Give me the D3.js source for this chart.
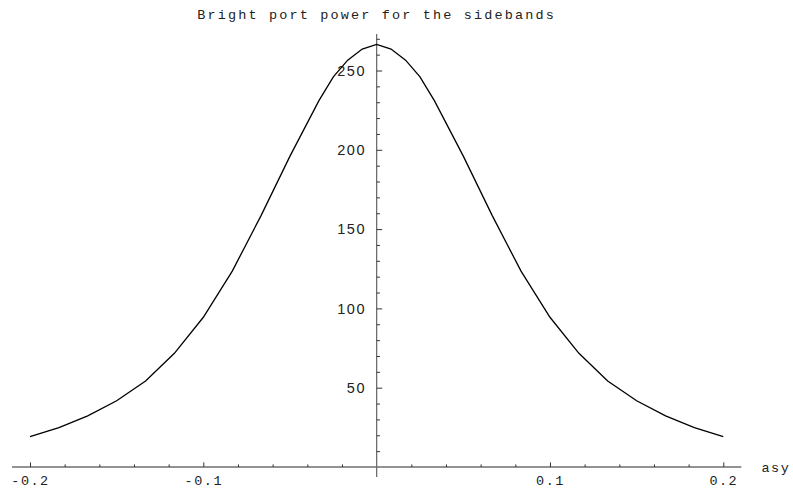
<!DOCTYPE html>
<html>
<head>
<meta charset="utf-8">
<script src="https://cdn.jsdelivr.net/npm/d3@7"></script>
<style>
    body { margin: 0; background: white; }
    svg { display: block; }
</style>
</head>
<body>
<svg id="chart" width="793" height="488"></svg>
<script>
// sample points of the curve (extra points near the peak)
let asyValues = [-0.2, -0.1833, -0.1667, -0.15, -0.1333, -0.1167, -0.1, -0.0833, -0.0667, -0.05, -0.0333, -0.025, -0.0167, -0.0083, 0,
                 0.0083, 0.0167, 0.025, 0.0333, 0.05, 0.0667, 0.0833, 0.1, 0.1167, 0.1333, 0.15, 0.1667, 0.1833, 0.2];
let powerValues = [19.1, 24.8, 32.2, 41.8, 54.2, 71.7, 94.4, 123.5, 158.5, 196, 231, 246, 256.5, 263.5, 266.5,
                   263.5, 256.5, 246, 231, 196, 158.5, 123.5, 94.4, 71.7, 54.2, 41.8, 32.2, 24.8, 19.1];

let xMajorTicks = [-0.2, -0.1, 0.1, 0.2];
let xMinorTicks = [-0.18, -0.16, -0.14, -0.12, -0.08, -0.06, -0.04, -0.02,
                   0.02, 0.04, 0.06, 0.08, 0.12, 0.14, 0.16, 0.18];
let yMajorTicks = [50, 100, 150, 200, 250];
let yMinorTicks = [10, 20, 30, 40, 60, 70, 80, 90, 110, 120, 130, 140, 160, 170, 180, 190, 210, 220, 230, 240, 260, 270];

let titleText = "Bright port power for the sidebands";
let xLabel = "asy";

let svg = d3.select("#chart");

let x = d3.scaleLinear().domain([-0.2, 0.2]).range([30, 723.3]);
let y = d3.scaleLinear().domain([0, 250]).range([467, 70.5]);

let axisColor = "#6e6e6e";

// axis lines (Mathematica style, crossing at the origin)
svg.append("line")
    .attr("x1", x(-0.2104))
    .attr("x2", x(0.2104))
    .attr("y1", y(0))
    .attr("y2", y(0))
    .style("stroke", axisColor)
    .style("stroke-width", 1.3);

svg.append("line")
    .attr("x1", x(0))
    .attr("x2", x(0))
    .attr("y1", y(-6.3))
    .attr("y2", y(273))
    .style("stroke", axisColor)
    .style("stroke-width", 1.3);

// x ticks point up from the axis
let xMinor = svg.append("g")
                .attr("transform", `translate(0, ${y(0)})`)
                .call(d3.axisBottom(x).tickValues(xMinorTicks).tickSize(-2.6).tickFormat(""));

let xMajor = svg.append("g")
                .attr("transform", `translate(0, ${y(0)})`)
                .call(d3.axisBottom(x).tickValues(xMajorTicks).tickSize(-4.6).tickFormat(d3.format(".1f")));

xMajor.selectAll("text")
        .attr("y", 17.5)
        .attr("dy", 0)
        .style("font-family", "'Liberation Mono', 'Courier New', monospace")
        .style("font-size", "13.5px")
        .style("letter-spacing", "1.5px")
        .style("fill", "#222")
        .text(d => d3.format(".1f")(d).replace("\u2212", "-"));

// y ticks point right from the axis
let yMinor = svg.append("g")
                .attr("transform", `translate(${x(0)}, 0)`)
                .call(d3.axisLeft(y).tickValues(yMinorTicks).tickSize(-3.3).tickFormat(""));

let yMajor = svg.append("g")
                .attr("transform", `translate(${x(0)}, 0)`)
                .call(d3.axisLeft(y).tickValues(yMajorTicks).tickSize(-5.5));

yMajor.selectAll("text")
        .attr("x", -10.5)
        .style("font-family", "'Liberation Sans', Arial, sans-serif")
        .style("font-size", "14.5px")
        .style("letter-spacing", "1.6px")
        .style("fill", "#222");

for (let g of [xMinor, xMajor, yMinor, yMajor]) {
    g.select(".domain").remove();
    g.selectAll("line")
        .style("stroke", "#333")
        .style("stroke-width", 1);
}

// the curve
let line = d3.line()
                .x((d, i) => x(asyValues[i]))
                .y(d => y(d));

svg.append("path")
    .datum(powerValues)
    .attr("d", line)
    .style("fill", "none")
    .style("stroke", "black")
    .style("stroke-width", 1.3);

// labels
svg.append("text")
    .attr("x", x(0))
    .attr("y", 19)
    .attr("text-anchor", "middle")
    .style("font-family", "'Liberation Mono', 'Courier New', monospace")
    .style("font-size", "13.5px")
    .style("letter-spacing", "2.15px")
    .style("fill", "#222")
    .text(titleText);

svg.append("text")
    .attr("x", 761.5)
    .attr("y", y(0) + 4.5)
    .style("font-family", "'Liberation Mono', 'Courier New', monospace")
    .style("font-size", "13.5px")
    .style("letter-spacing", "1.5px")
    .style("fill", "#222")
    .text(xLabel);
</script>
</body>
</html>
